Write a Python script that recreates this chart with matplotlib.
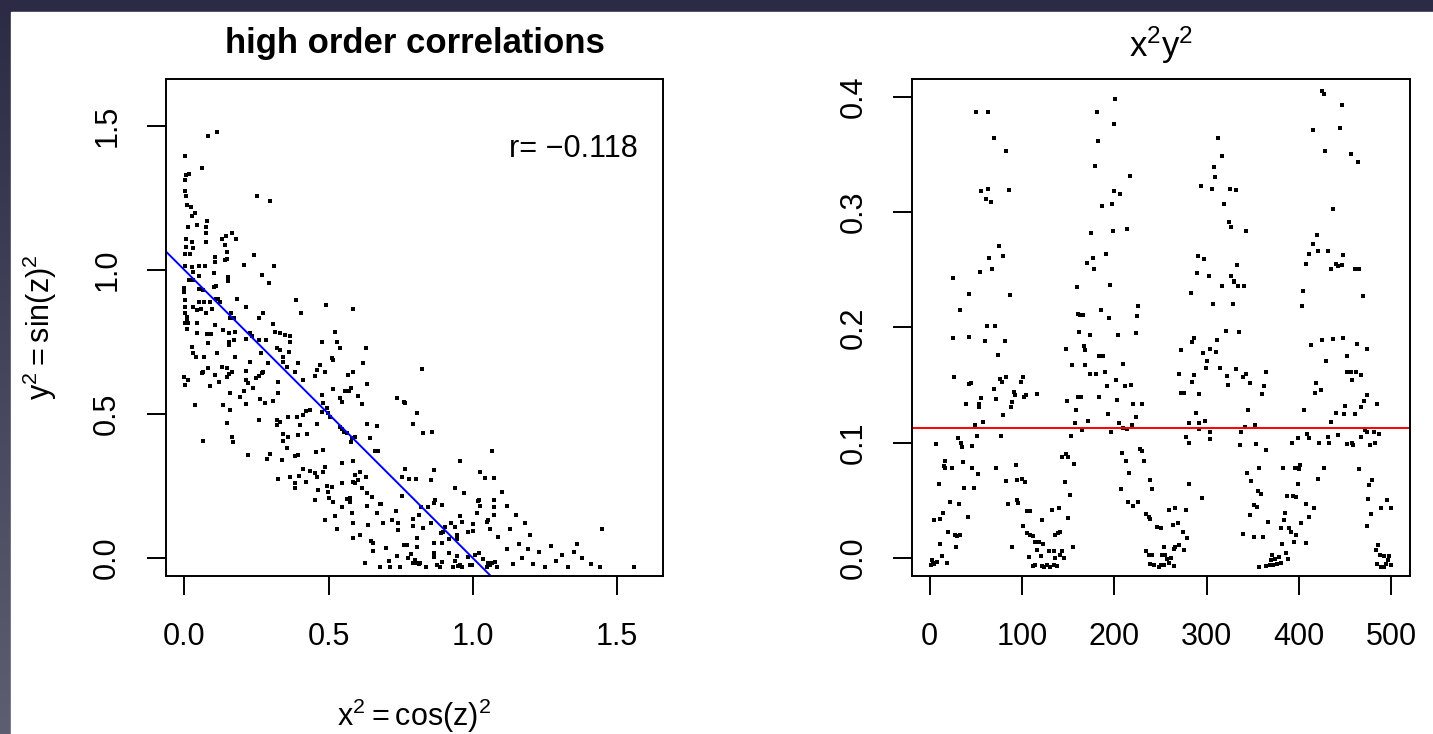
import matplotlib
matplotlib.use("Agg")
import matplotlib.pyplot as plt
import numpy as np
from matplotlib.patches import Rectangle

plt.rcParams["font.family"] = ["Liberation Sans", "DejaVu Sans"]
plt.rcParams["mathtext.fontset"] = "custom"
plt.rcParams["mathtext.rm"] = "Liberation Sans"
plt.rcParams["mathtext.default"] = "regular"

# ---- left panel: (x^2, y^2) pairs ----
left_top = [
    (0.081, 1.465), (0.112, 1.479), (0.002, 1.396), (0.061, 1.354), (0.005, 1.330),
    (0.017, 1.333), (0.003, 1.312), (0.001, 1.274), (0.005, 1.255), (0.253, 1.257),
    (0.298, 1.240), (0.010, 1.225), (0.022, 1.219), (0.038, 1.197), (0.028, 1.188),
    (0.014, 1.150), (0.043, 1.156), (0.077, 1.170), (0.074, 1.148), (0.074, 1.128),
    (0.005, 1.108), (0.028, 1.098), (0.006, 1.081), (0.031, 1.075), (0.002, 1.056),
    (0.020, 1.054), (0.075, 1.096), (0.129, 1.108), (0.145, 1.119), (0.164, 1.127),
    (0.179, 1.108), (0.141, 1.087), (0.149, 1.061), (0.142, 1.035), (0.149, 1.038),
    (0.106, 1.046), (0.106, 1.029), (0.243, 1.052), (0.208, 1.017), (0.312, 1.014),
    (0.001, 1.015), (0.025, 1.009), (0.052, 1.012), (0.072, 1.014), (0.103, 0.991),
    (0.029, 0.993), (0.016, 0.965), (0.031, 0.965), (0.049, 0.979), (0.151, 0.975),
    (0.151, 0.961), (0.268, 0.983), (0.295, 0.956), (0.109, 0.944), (0.102, 0.942),
    (0.000, 0.936), (0.000, 0.922), (0.049, 0.933), (0.066, 0.931), (0.116, 0.898),
    (0.110, 0.898), (0.125, 0.887), (0.182, 0.900), (0.001, 0.896), (0.049, 0.889),
    (0.068, 0.888), (0.090, 0.888), (0.001, 0.873), (0.030, 0.870), (0.043, 0.861),
    (0.057, 0.863), (0.075, 0.852), (0.095, 0.863), (0.214, 0.870), (0.388, 0.896),
    (0.406, 0.850), (0.490, 0.877), (0.584, 0.865), (0.272, 0.850), (0.001, 0.852),
    (0.008, 0.838), (0.257, 0.832), (0.161, 0.850), (0.172, 0.832),
]
left_upper = [
    (0.008, 0.824), (0.002, 0.815), (0.014, 0.815), (0.008, 0.794), (0.106, 0.809),
    (0.135, 0.792), (0.153, 0.780), (0.158, 0.832), (0.176, 0.786), (0.309, 0.813),
    (0.314, 0.786), (0.332, 0.780), (0.349, 0.774), (0.366, 0.769), (0.366, 0.751),
    (0.045, 0.815), (0.043, 0.780), (0.077, 0.778), (0.091, 0.778), (0.228, 0.780),
    (0.083, 0.745), (0.156, 0.751), (0.172, 0.757), (0.212, 0.759), (0.234, 0.771),
    (0.260, 0.757), (0.282, 0.757), (0.027, 0.734), (0.031, 0.711), (0.040, 0.699),
    (0.069, 0.699), (0.112, 0.713), (0.156, 0.740), (0.176, 0.697), (0.228, 0.682),
    (0.266, 0.711), (0.291, 0.676), (0.320, 0.728), (0.332, 0.722), (0.343, 0.699),
    (0.343, 0.682), (0.355, 0.664), (0.395, 0.676), (0.363, 0.716), (0.476, 0.751),
    (0.523, 0.784), (0.528, 0.751), (0.538, 0.728), (0.511, 0.693), (0.517, 0.688),
    (0.629, 0.728), (0.621, 0.676),
    (0.000, 0.627), (0.012, 0.618), (0.002, 0.601), (0.060, 0.641), (0.066, 0.644),
    (0.081, 0.659), (0.089, 0.597), (0.106, 0.635), (0.120, 0.612), (0.129, 0.664),
    (0.147, 0.659), (0.149, 0.627), (0.156, 0.639), (0.164, 0.647), (0.193, 0.560),
    (0.205, 0.578), (0.212, 0.650), (0.214, 0.618), (0.222, 0.606), (0.239, 0.589),
    (0.249, 0.626), (0.257, 0.632), (0.268, 0.641), (0.274, 0.644), (0.323, 0.612),
    (0.326, 0.572), (0.413, 0.618), (0.384, 0.644), (0.459, 0.653), (0.471, 0.670),
    (0.453, 0.632), (0.488, 0.647), (0.476, 0.566), (0.514, 0.586), (0.540, 0.554),
    (0.546, 0.543), (0.557, 0.578), (0.572, 0.578), (0.577, 0.589), (0.586, 0.644),
    (0.569, 0.635), (0.632, 0.603), (0.603, 0.563), (0.615, 0.535), (0.736, 0.554),
    (0.760, 0.541), (0.765, 0.537), (0.823, 0.656), (0.158, 0.572),
]
left_middle = [
    (0.037, 0.531), (0.135, 0.531), (0.158, 0.512), (0.214, 0.535), (0.147, 0.470),
    (0.257, 0.479), (0.262, 0.551), (0.280, 0.537), (0.309, 0.546), (0.320, 0.479),
    (0.320, 0.462), (0.332, 0.473), (0.361, 0.491), (0.390, 0.491), (0.401, 0.462),
    (0.413, 0.497), (0.421, 0.510), (0.436, 0.514), (0.459, 0.464), (0.476, 0.508),
    (0.482, 0.539), (0.494, 0.520), (0.499, 0.502), (0.505, 0.491), (0.540, 0.454),
    (0.546, 0.447), (0.554, 0.439), (0.563, 0.435), (0.632, 0.465), (0.667, 0.458),
    (0.794, 0.465), (0.806, 0.502), (0.827, 0.435), (0.858, 0.439),
    (0.066, 0.406), (0.164, 0.421), (0.170, 0.402), (0.220, 0.358), (0.286, 0.344),
    (0.297, 0.360), (0.338, 0.340), (0.343, 0.429), (0.343, 0.406), (0.355, 0.383),
    (0.361, 0.421), (0.384, 0.354), (0.395, 0.358), (0.395, 0.427), (0.424, 0.429),
    (0.457, 0.367), (0.482, 0.375), (0.488, 0.317), (0.546, 0.331), (0.586, 0.337),
    (0.580, 0.416), (0.578, 0.404), (0.592, 0.421), (0.661, 0.372), (0.673, 0.372),
    (0.644, 0.418), (1.066, 0.372),
    (0.323, 0.274), (0.366, 0.282), (0.382, 0.262), (0.385, 0.242), (0.399, 0.285),
    (0.413, 0.308), (0.422, 0.265), (0.436, 0.302), (0.453, 0.294), (0.459, 0.282),
    (0.465, 0.236), (0.482, 0.297), (0.453, 0.201), (0.494, 0.250), (0.499, 0.230),
    (0.511, 0.245), (0.503, 0.207), (0.517, 0.196), (0.546, 0.259), (0.563, 0.204),
    (0.575, 0.207), (0.586, 0.265), (0.592, 0.288), (0.592, 0.259), (0.603, 0.271),
    (0.609, 0.300), (0.615, 0.244), (0.630, 0.282), (0.635, 0.227), (0.651, 0.211),
    (0.679, 0.188), (0.754, 0.282), (0.765, 0.308), (0.780, 0.274), (0.803, 0.274),
    (0.854, 0.271), (0.867, 0.306), (0.939, 0.242), (0.956, 0.337), (0.970, 0.225),
    (1.025, 0.297), (1.043, 0.277), (1.072, 0.277), (1.020, 0.201), (1.072, 0.201),
]
left_lower = [
    (0.488, 0.132), (0.523, 0.144), (0.528, 0.100), (0.546, 0.178), (0.575, 0.196),
    (0.580, 0.155), (0.586, 0.123), (0.586, 0.071), (0.609, 0.079), (0.632, 0.181),
    (0.637, 0.115), (0.646, 0.058), (0.653, 0.053), (0.669, 0.155), (0.681, 0.188),
    (0.690, 0.123), (0.719, 0.132), (0.734, 0.164), (0.742, 0.123), (0.742, 0.097),
    (0.756, 0.215), (0.794, 0.134), (0.794, 0.111), (0.806, 0.068), (0.815, 0.149),
    (0.820, 0.178), (0.827, 0.103), (0.846, 0.178), (0.854, 0.120), (0.864, 0.190),
    (0.869, 0.201), (0.892, 0.184), (0.890, 0.086), (0.898, 0.091), (0.904, 0.106),
    (0.916, 0.065), (0.925, 0.120), (0.939, 0.109), (0.945, 0.080), (0.947, 0.065),
    (0.956, 0.144), (0.962, 0.126), (0.985, 0.091), (1.000, 0.118), (1.002, 0.095),
    (1.016, 0.155), (1.017, 0.199), (1.025, 0.181), (1.049, 0.126), (1.054, 0.132),
    (1.060, 0.100), (1.072, 0.178), (1.072, 0.149), (1.089, 0.072),
    (0.627, -0.019), (0.653, 0.025), (0.679, -0.030), (0.698, 0.034), (0.711, -0.009),
    (0.713, -0.030), (0.736, 0.007), (0.748, -0.030), (0.762, 0.045), (0.771, 0.045),
    (0.777, -0.001), (0.785, 0.013), (0.794, -0.019), (0.800, -0.007), (0.806, 0.039),
    (0.806, -0.019), (0.812, -0.022), (0.817, -0.016), (0.838, -0.030), (0.864, 0.051),
    (0.864, 0.016), (0.864, 0.005), (0.875, -0.024), (0.892, -0.013), (0.887, -0.030),
    (0.892, 0.051), (0.916, 0.016), (0.933, -0.030), (0.939, -0.009), (0.945, 0.007),
    (0.950, -0.028), (0.956, -0.024), (0.962, -0.030), (0.985, 0.005), (0.991, -0.024),
    (0.997, -0.024), (1.008, 0.010), (1.020, 0.016), (1.037, -0.005), (1.049, -0.030),
    (1.054, -0.019), (1.060, -0.024), (1.066, -0.019), (1.077, -0.013), (1.083, -0.030),
]
left_tail = [
    (1.10, 0.23), (1.12, 0.18), (1.13, 0.10), (1.15, 0.15), (1.16, 0.05), (1.18, 0.12),
    (1.20, 0.08), (1.21, -0.02), (1.23, 0.02), (1.25, -0.03), (1.27, 0.04), (1.29, -0.01),
    (1.31, 0.01), (1.33, -0.03), (1.36, 0.05), (1.38, 0.00), (1.41, -0.02), (1.45, 0.10),
    (1.44, -0.03), (1.12, 0.03), (1.14, -0.02), (1.17, 0.00), (1.19, 0.03), (1.35, 0.02),
    (1.56, -0.03),
]

fit_intercept = 1.0
fit_slope = -1.0
r_value = -0.118

# ---- right panel: (index, x^2 y^2) ----
right_cycle1 = [
    (2, -0.002), (4, -0.004), (1, -0.006), (5, -0.005), (8, -0.003), (13, 0.002),
    (19, -0.004), (11, 0.012), (5, 0.033), (11, 0.034), (14, 0.039), (20, 0.023),
    (27, 0.020), (29, 0.019), (33, 0.020), (28, 0.010), (22, 0.049), (32, 0.047),
    (41, 0.036), (10, 0.064), (37, 0.061), (48, 0.061), (16, 0.084), (15, 0.080),
    (17, 0.078), (24, 0.078), (36, 0.083), (46, 0.078), (52, 0.073), (7, 0.099),
    (31, 0.104), (34, 0.100), (35, 0.096), (46, 0.097), (51, 0.106), (49, 0.115),
    (58, 0.118), (77, 0.106), (72, 0.078), (82, 0.067), (85, 0.047), (93, 0.081),
    (94, 0.068), (100, 0.069), (103, 0.066), (94, 0.050), (96, 0.048), (89, 0.010),
    (105, 0.041), (109, 0.041), (101, 0.028), (105, 0.022), (109, 0.020), (112, 0.019),
    (114, 0.014), (118, 0.014), (116, 0.007), (122, 0.033), (123, 0.012), (107, 0.001),
    (102, 0.140), (116, 0.142), (104, 0.141), (99, 0.153), (101, 0.157), (91, 0.144),
    (92, 0.141), (89, 0.135), (88, 0.131), (79, 0.124), (83, 0.157), (76, 0.155),
    (78, 0.153), (69, 0.147), (72, 0.138), (56, 0.139), (53, 0.134), (53, 0.131),
    (39, 0.134), (43, 0.151), (45, 0.152), (26, 0.157),
    (50, 0.387), (63, 0.387), (70, 0.364), (83, 0.353), (56, 0.318), (63, 0.320),
    (61, 0.311), (66, 0.309), (86, 0.319), (75, 0.271), (64, 0.260), (79, 0.262),
    (67, 0.251), (54, 0.248), (25, 0.243), (42, 0.229), (87, 0.228), (33, 0.215),
    (62, 0.201), (71, 0.201), (25, 0.191), (43, 0.192), (60, 0.188), (81, 0.188),
    (74, 0.176),
]
right_cycle2 = [
    (112, -0.007), (114, -0.006), (120, 0.002), (121, -0.007), (124, -0.008),
    (127, -0.006), (129, 0.006), (130, -0.008), (134, -0.006), (136, 0.000),
    (134, 0.006), (138, -0.007), (139, 0.022), (141, 0.023), (136, 0.020),
    (141, 0.003), (145, 0.000), (143, 0.006), (150, 0.035), (132, 0.042),
    (140, 0.043), (155, 0.010), (152, 0.055), (146, 0.066), (143, 0.088),
    (147, 0.090), (150, 0.088), (156, 0.082), (153, 0.106), (165, 0.111),
    (157, 0.117), (171, 0.119), (196, 0.109), (205, 0.117), (209, 0.113),
    (214, 0.112), (219, 0.115), (223, 0.122), (149, 0.136), (158, 0.128),
    (161, 0.140), (164, 0.140), (183, 0.140), (193, 0.125), (203, 0.137),
    (220, 0.134), (230, 0.134),
    (201, 0.398), (181, 0.387), (199, 0.376), (182, 0.362), (179, 0.340),
    (217, 0.331), (199, 0.318), (206, 0.316), (186, 0.305), (197, 0.307),
    (175, 0.282), (198, 0.284), (214, 0.285), (191, 0.264), (170, 0.256),
    (177, 0.260), (178, 0.251), (195, 0.237), (159, 0.235), (185, 0.215),
    (194, 0.208), (160, 0.212), (163, 0.211), (166, 0.211), (226, 0.219),
    (224, 0.210), (162, 0.196), (174, 0.193), (204, 0.193), (223, 0.195),
    (167, 0.184), (168, 0.180), (148, 0.181), (183, 0.175), (188, 0.175),
    (209, 0.168), (154, 0.167), (168, 0.167), (173, 0.160), (180, 0.160),
    (190, 0.161), (202, 0.154), (192, 0.149), (211, 0.149), (218, 0.150),
    (208, 0.091), (212, 0.084), (216, 0.074), (207, 0.060), (215, 0.049),
    (220, 0.045), (226, 0.049), (228, 0.095), (230, 0.093), (232, 0.084),
    (234, 0.038), (237, 0.036), (234, 0.006), (237, 0.003), (239, -0.005),
]
right_cycle3 = [
    (239, 0.068), (241, 0.060), (239, 0.034), (246, 0.027), (250, 0.026),
    (259, 0.042), (266, 0.043), (277, 0.042), (263, 0.029), (269, 0.030),
    (274, 0.023), (279, 0.017), (270, 0.011), (266, 0.010), (265, 0.008),
    (275, 0.007), (254, 0.010), (252, 0.003), (255, 0.003), (257, -0.001),
    (261, 0.000), (265, -0.007), (259, -0.004), (254, -0.006), (248, -0.008),
    (243, -0.006), (250, -0.006), (241, 0.003), (281, 0.064), (295, 0.052),
    (312, 0.364), (316, 0.349), (308, 0.339), (309, 0.330), (294, 0.323),
    (306, 0.320), (325, 0.320), (332, 0.319), (319, 0.307), (324, 0.291),
    (326, 0.287), (343, 0.284), (290, 0.262), (297, 0.259), (289, 0.247),
    (302, 0.245), (333, 0.254), (317, 0.236), (326, 0.245), (329, 0.240),
    (330, 0.239), (334, 0.236), (340, 0.236), (283, 0.230), (307, 0.220),
    (328, 0.220), (321, 0.197), (335, 0.196), (286, 0.191), (284, 0.187),
    (311, 0.189), (304, 0.181), (310, 0.179), (272, 0.180), (296, 0.178),
    (300, 0.171), (299, 0.165), (314, 0.165), (332, 0.164), (339, 0.157),
    (342, 0.160), (347, 0.152), (364, 0.161), (362, 0.149), (360, 0.142),
    (322, 0.158), (323, 0.150), (286, 0.159), (284, 0.153), (272, 0.143),
    (275, 0.143), (292, 0.142), (270, 0.160), (345, 0.128), (288, 0.126),
    (281, 0.117), (292, 0.117), (298, 0.119), (292, 0.112), (304, 0.109),
    (303, 0.103), (278, 0.105), (281, 0.100), (341, 0.114), (352, 0.115),
    (337, 0.109), (336, 0.098), (353, 0.099), (364, 0.094),
    (344, 0.074), (356, 0.078), (348, 0.067), (355, 0.058), (359, 0.056),
    (351, 0.046), (354, 0.044), (347, 0.037), (339, 0.021), (351, 0.018),
    (361, 0.018), (366, 0.031), (383, 0.078), (395, 0.078), (398, 0.078),
    (401, 0.081), (400, 0.077), (399, 0.064), (387, 0.054), (393, 0.054),
    (397, 0.053), (407, 0.047), (416, 0.043), (411, 0.036), (402, 0.030),
    (385, 0.039), (384, 0.033), (380, 0.026), (389, 0.026), (391, 0.023),
    (397, 0.020), (394, 0.014), (407, 0.013), (381, 0.012), (386, 0.004),
    (388, -0.001), (371, 0.003), (374, -0.001), (376, -0.005), (372, -0.006),
    (368, -0.006), (364, -0.007), (357, -0.008), (370, -0.002), (380, -0.004),
    (378, 0.001),
]
right_cycle4 = [
    (425, 0.405), (427, 0.402), (446, 0.393), (415, 0.371), (444, 0.373),
    (428, 0.353), (456, 0.350), (464, 0.343), (437, 0.303), (419, 0.280),
    (415, 0.272), (411, 0.264), (420, 0.266), (431, 0.266), (448, 0.263),
    (407, 0.255), (435, 0.251), (440, 0.255), (442, 0.253), (446, 0.254),
    (461, 0.251), (465, 0.251), (404, 0.232), (403, 0.219), (469, 0.227),
    (413, 0.185), (425, 0.189), (437, 0.190), (447, 0.191), (463, 0.186),
    (473, 0.181), (429, 0.171), (452, 0.175), (452, 0.161), (456, 0.161),
    (462, 0.161), (467, 0.159), (457, 0.154), (418, 0.152), (417, 0.143),
    (424, 0.146), (405, 0.128), (440, 0.126), (449, 0.125), (460, 0.125),
    (450, 0.132), (467, 0.131), (470, 0.136), (474, 0.141), (484, 0.134),
    (435, 0.118), (409, 0.108), (399, 0.104), (392, 0.100), (411, 0.104),
    (422, 0.100), (431, 0.105), (432, 0.100), (442, 0.107), (452, 0.099),
    (457, 0.100), (458, 0.098), (467, 0.105), (471, 0.111), (474, 0.109),
    (481, 0.109), (486, 0.108), (477, 0.098), (482, 0.100),
    (420, 0.069), (427, 0.078), (465, 0.077), (479, 0.068), (476, 0.063),
    (475, 0.051), (478, 0.038), (474, 0.028), (489, 0.043), (495, 0.050),
    (500, 0.043), (485, 0.011), (483, 0.007), (488, 0.003), (492, 0.002),
    (497, 0.002), (494, -0.005), (499, -0.006), (484, -0.005), (489, -0.008),
    (492, -0.008), (496, -0.002),
]
right_mean = 0.1131

x_ticks_left = [0.0, 0.5, 1.0, 1.5]
y_ticks_left = [0.0, 0.5, 1.0, 1.5]
x_ticks_right = [0, 100, 200, 300, 400, 500]
y_ticks_right = [0.0, 0.1, 0.2, 0.3, 0.4]


def r_style(ax):
    for s in ax.spines.values():
        s.set_linewidth(1.4)
    ax.tick_params(direction="out", length=13.5, width=1.4, labelsize=22)
    ax.tick_params(axis="x", pad=20)
    ax.tick_params(axis="y", pad=18, labelrotation=90)
    for lab in ax.get_yticklabels():
        lab.set_va("center")


fig = plt.figure(figsize=(14.33, 7.34), dpi=100)

# slide background + white plot area
bg = fig.add_axes([0, 0, 1, 1], zorder=-10)
grad = np.linspace(0, 1, 256).reshape(-1, 1)
bg.imshow(grad, aspect="auto", extent=[0, 1, 0, 1], origin="upper",
          cmap=matplotlib.colors.LinearSegmentedColormap.from_list(
              "slide", ["#2b2b45", "#5e5e72"]))
bg.add_patch(Rectangle((11 / 1433, 0), 1, 1 - 12 / 734, color="white", zorder=2))
bg.set_xlim(0, 1)
bg.set_ylim(0, 1)
bg.axis("off")

# left panel
ax1 = fig.add_axes([0.1158, 0.2153, 0.3469, 0.6771])
pts = left_top + left_upper + left_middle + left_lower + left_tail
lx = [p[0] for p in pts]
ly = [p[1] for p in pts]
ax1.plot(lx, ly, "s", color="black", markersize=2.6, markeredgewidth=0)
xx = np.array([-0.1, 1.8])
ax1.plot(xx, fit_intercept + fit_slope * xx, color="blue", linewidth=1.4)
ax1.set_xlim(-0.064, 1.660)
ax1.set_ylim(-0.0625, 1.663)
ax1.set_xticks(x_ticks_left)
ax1.set_xticklabels([f"{v:.1f}" for v in x_ticks_left])
ax1.set_yticks(y_ticks_left)
ax1.set_yticklabels([f"{v:.1f}" for v in y_ticks_left])
r_style(ax1)
ax1.set_title("high order correlations", fontsize=25, fontweight="bold", pad=19)
ax1.text(0.95, 0.86, f"r= \u2212{abs(r_value):.3f}", transform=ax1.transAxes,
         ha="right", va="center", fontsize=22)
ax1.set_xlabel("$x^2 = cos(z)^2$", fontsize=22, labelpad=32)
ax1.set_ylabel("$y^2 = sin(z)^2$", fontsize=22, labelpad=24)

# right panel (same plot region height as the left one)
ax2 = fig.add_axes([0.6366, 0.2153, 0.3473, 0.6771])
rpts = right_cycle1 + right_cycle2 + right_cycle3 + right_cycle4
rx = [p[0] for p in rpts]
ry = [p[1] for p in rpts]
ax2.plot(rx, ry, "s", color="black", markersize=2.6, markeredgewidth=0)
ax2.axhline(right_mean, color="red", linewidth=1.4)
ax2.set_xlim(-19, 520)
ax2.set_ylim(-0.0155, 0.4154)
ax2.set_xticks(x_ticks_right)
ax2.set_xticklabels([str(v) for v in x_ticks_right])
ax2.set_yticks(y_ticks_right)
ax2.set_yticklabels([f"{v:.1f}" for v in y_ticks_right])
r_style(ax2)
ax2.set_title("$x^2y^2$", fontsize=25, pad=16)

fig.savefig("out.png", dpi=100)
